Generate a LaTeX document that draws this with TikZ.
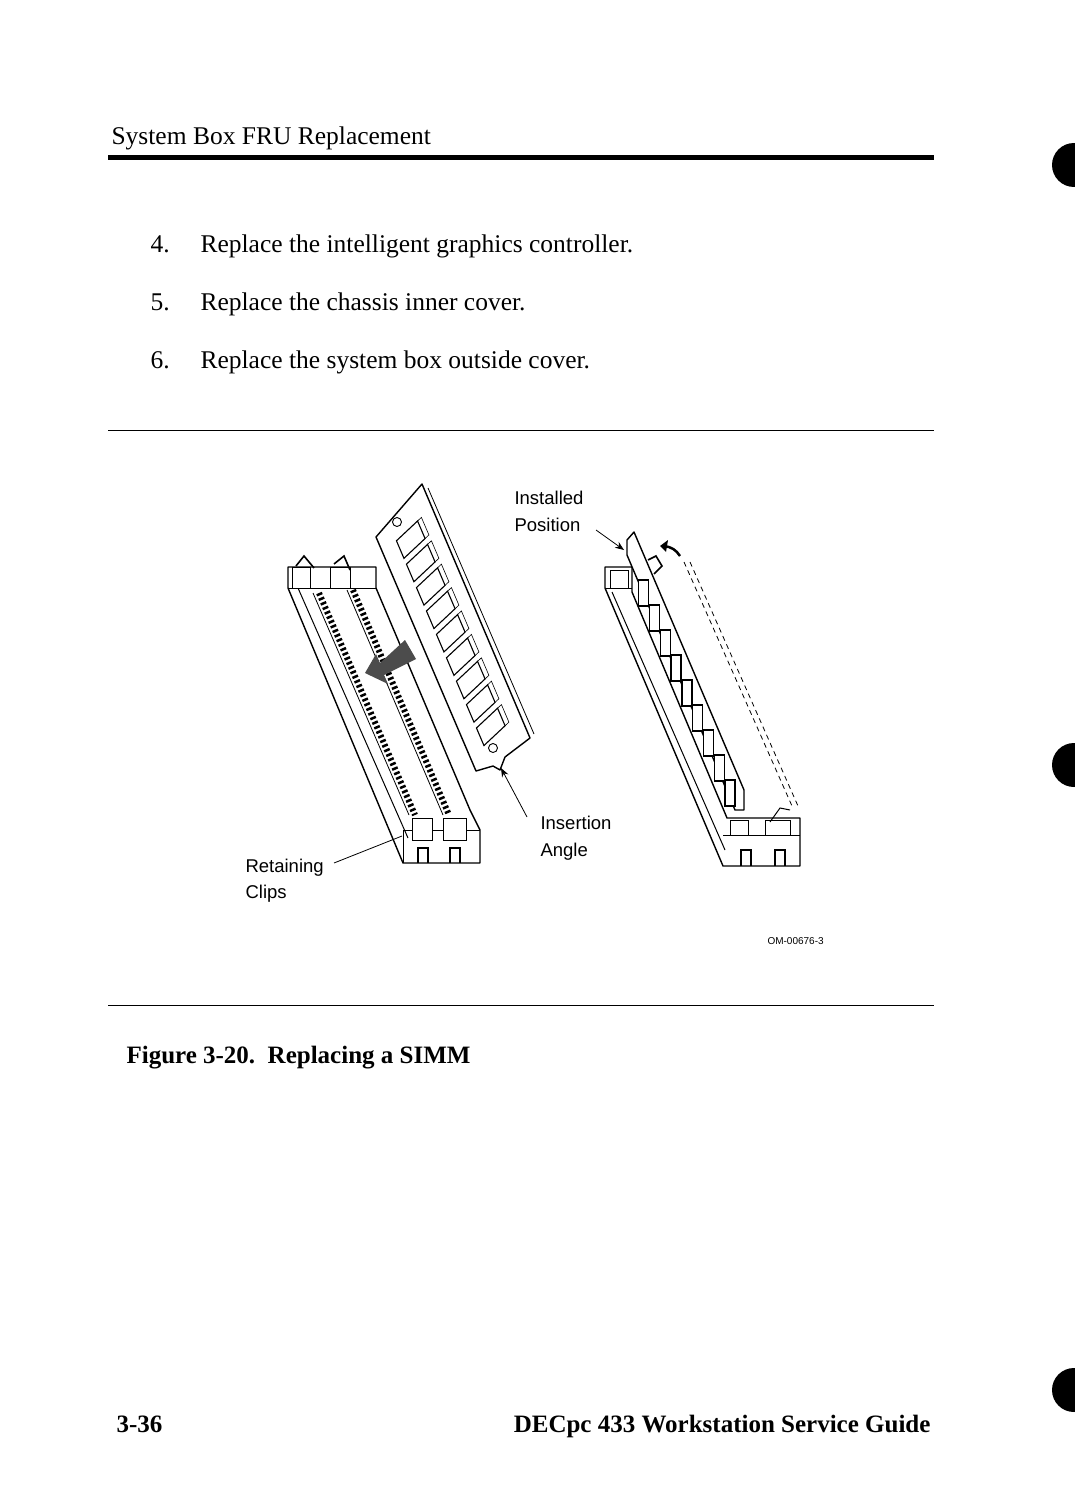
\documentclass[tikz,border=0pt]{standalone}
\usepackage{fontspec}
\setmainfont{Liberation Serif}
\newfontfamily\lblfont{Liberation Sans}
\usetikzlibrary{calc,decorations.pathmorphing,arrows.meta}
\begin{document}
\begin{tikzpicture}[x=1pt,y=-1pt,
  body/.style={anchor=base west,font=\fontsize{25.5}{30}\selectfont},
  bodyb/.style={anchor=base west,font=\fontsize{25}{30}\selectfont\bfseries},
  lbl/.style={anchor=base west,font=\lblfont\fontsize{18.5}{22}\selectfont},
  part/.style={draw,line width=1.4pt,fill=white,line join=round},
  lead/.style={line width=0.8pt},
  rule/.style={line width=1pt}]
\useasboundingbox (0,0) rectangle (1074,1506);
% header
\node[body] (hdr) at (108,145) {System Box FRU Replacement};
\fill (108,155) rectangle (934,160);
\node[body] (n4) at (147,252) {4.};
\node[body] (t4) at (197,252) {Replace the intelligent graphics controller.};
\node[body] (n5) at (147,310) {5.};
\node[body] (t5) at (197,310) {Replace the chassis inner cover.};
\node[body] (n6) at (147,368) {6.};
\node[body] (t6) at (197,368) {Replace the system box outside cover.};
\draw[rule] (108,430) -- (934,430);
\draw[rule] (108,1005) -- (934,1005);
\node[bodyb] (cap) at (123,1063) {Figure 3-20.\ \ Replacing a SIMM};
\node[bodyb] (pg) at (113,1432) {3-36};
\node[bodyb,anchor=base east] (gd) at (934,1432) {DECpc 433 Workstation Service Guide};
% edge tabs
\fill (1074,165) circle (22);
\fill (1074,765) circle (22);
\fill (1074,1390) circle (22);
% ---------- left socket ----------
\draw[part] (288,567) -- (376,567) -- (376,588) -- (470,810) -- (480,830) -- (480,863) -- (403,863) -- (288,588) -- cycle;
\draw[line width=1pt] (298,588) -- (408,838);
\draw[line width=1pt] (288,588) -- (376,588);
\draw[line width=1pt] (403,830) -- (480,830);
\draw[line width=1pt] (403,830) -- (403,863);
\draw[line width=1pt,fill=white] (292,567) rectangle (310,588);
\draw[line width=1pt,fill=white] (330,567) rectangle (350,588);
\draw[line width=1.6pt] (296,566) -- (304,556) -- (314,568);
\draw[line width=1.6pt] (334,564) -- (344,556) -- (350,570);
\draw[line width=1pt,fill=white] (412,818) rectangle (432,840);
\draw[line width=1pt,fill=white] (443,818) rectangle (466,840);
\draw[line width=1.4pt] (418,863) -- (418,848) -- (428,848) -- (428,863);
\draw[line width=1.4pt] (450,863) -- (450,848) -- (460,848) -- (460,863);
% teeth rows
\draw[line width=6pt,dash pattern=on 2.5pt off 2.5pt] (319,593) -- (415,815);
\draw[line width=6pt,dash pattern=on 2.5pt off 2.5pt] (353,590) -- (449,815);
\draw[line width=0.8pt] (313,593) -- (409,815);
\draw[line width=0.8pt] (347,590) -- (443,815);
% ---------- SIMM module ----------
\draw[part] (422,484) -- (530,738) -- (505,757) -- (500,770) -- (493,766) -- (476,771) -- (376,537) -- cycle;
\draw[line width=0.8pt] (428,488) -- (534,734);
\draw[line width=0.9pt] (397,522) circle (4.5);
\draw[line width=0.9pt] (493,748) circle (4.5);
\foreach \i in {0,...,8}{
  \pgfmathsetmacro{\aa}{0.07+\i*0.1}
  \pgfmathsetmacro{\ab}{\aa+0.075}
  \draw[line width=1.1pt,fill=white]
    ({376+100*\aa+48*0.28},{537+234*\aa-45*0.28}) --
    ({376+100*\ab+48*0.28},{537+234*\ab-45*0.28}) --
    ({376+100*\ab+48*0.72},{537+234*\ab-45*0.72}) --
    ({376+100*\aa+48*0.72},{537+234*\aa-45*0.72}) -- cycle;
  \draw[line width=0.6pt]
    ({376+100*\aa+48*0.72},{537+234*\aa-45*0.72}) --
    ({376+100*\aa+48*0.8},{537+234*\aa-45*0.8}) --
    ({376+100*\ab+48*0.8},{537+234*\ab-45*0.8}) --
    ({376+100*\ab+48*0.72},{537+234*\ab-45*0.72});
}
% insertion arrow
\fill[gray!60!black] (405,640) -- (416,659) -- (384,675) -- (388,684) -- (365,673) -- (376,654) -- (380,663) -- cycle;
% ---------- right socket ----------
\draw[part] (605,567) -- (632,567) -- (632,592) -- (727,818) -- (800,818) -- (800,866) -- (723,866) -- (605,588) -- cycle;
\draw[line width=1pt] (605,588) -- (632,588);
\draw[line width=1pt] (612,592) -- (725,850);
\draw[line width=1pt] (723,835) -- (800,835);
\draw[line width=1.4pt] (741,866) -- (741,850) -- (751,850) -- (751,866);
\draw[line width=1.4pt] (775,866) -- (775,850) -- (785,850) -- (785,866);
\draw[line width=1pt,fill=white] (610,570) rectangle (628,588);
\draw[line width=1pt,fill=white] (730,820) rectangle (748,835);
\draw[line width=1pt,fill=white] (765,820) rectangle (790,835);
\draw[line width=1pt] (770,822) -- (780,808) -- (790,810);
% installed module
\draw[part] (627,540) -- (634,532) -- (744,790) -- (744,810) -- (735,810) -- (627,555) -- cycle;
\foreach \i in {0,...,8}{
  \pgfmathsetmacro{\t}{0.08+\i*0.1}
  \draw[line width=1.3pt,fill=white]
    ({630+108*\t},{560+250*\t}) rectangle ({630+108*\t+10},{560+250*\t+26});
}
\draw[line width=1.6pt] (648,560) -- (656,556) -- (662,566) -- (654,574);
\fill (660,546) -- (668,540) -- (666,552) -- cycle;
\draw[line width=2.5pt] (664,546) to[bend left=25] (680,556);
% dashed swing
\draw[line width=0.8pt,dash pattern=on 5pt off 4pt] (684,562) -- (792,806);
\draw[line width=0.8pt,dash pattern=on 5pt off 4pt] (690,562) -- (798,806);
% ---------- labels ----------
\node[lbl] (inst) at (511,504) {Installed};
\node[lbl] (pos) at (511,531) {Position};
\coordinate (instTip) at (624,550);
\draw[lead,-{Stealth[length=9pt,width=7pt]}] (596,530) -- (instTip);
\node[lbl] (ins) at (537,829) {Insertion};
\node[lbl] (ang) at (537,856) {Angle};
\coordinate (insTip) at (501,768);
\draw[lead,-{Stealth[length=9pt,width=7pt]}] (527,817) -- (insTip);
\node[lbl] (ret) at (242,872) {Retaining};
\node[lbl] (clp) at (242,898) {Clips};
\coordinate (retTip) at (402,836);
\draw[lead] (334,863) -- (retTip);
\node[anchor=base west,font=\lblfont\fontsize{10}{12}\selectfont] (om) at (764,944) {OM-00676-3};
\end{tikzpicture}
\end{document}
